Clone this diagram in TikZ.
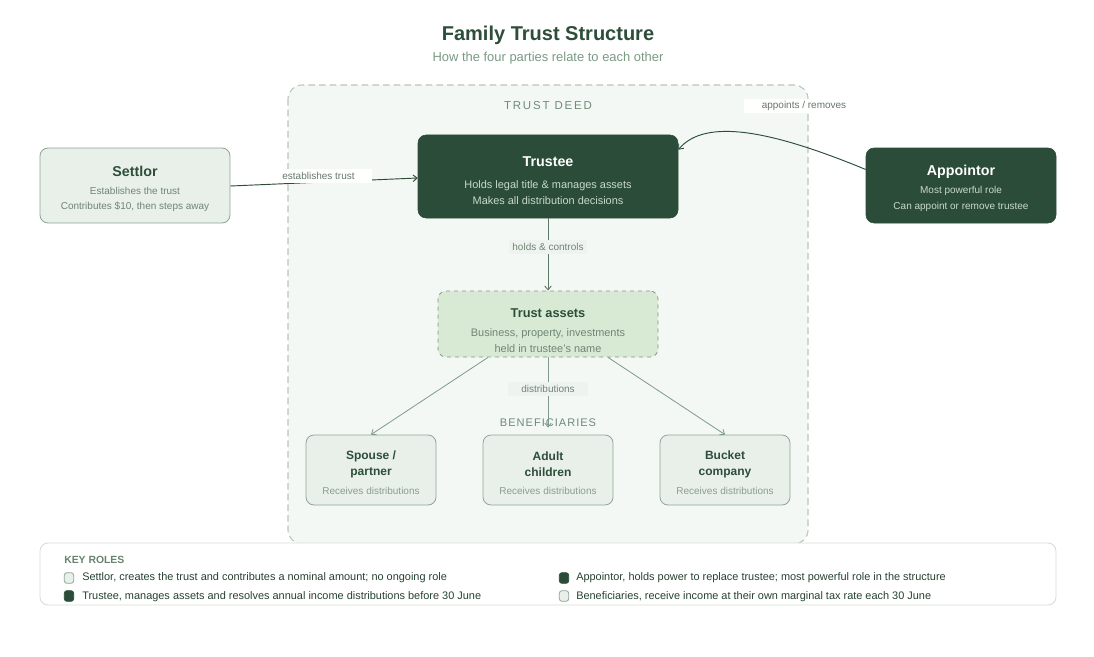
\documentclass[tikz,border=0pt]{standalone}
\usepackage{fontspec}
\setmainfont{Liberation Sans}
\usetikzlibrary{arrows.meta,calc}
\definecolor{dk}{HTML}{2B4C38}
\definecolor{titlec}{HTML}{2D4E3A}
\definecolor{subc}{HTML}{7A9A84}
\definecolor{deedfill}{HTML}{F4F8F5}
\definecolor{deedline}{HTML}{B9C5BD}
\definecolor{lightfill}{HTML}{E8F0E9}
\definecolor{lightline}{HTML}{8FA696}
\definecolor{assetfill}{HTML}{D8EAD3}
\definecolor{assetline}{HTML}{7F9A86}
\definecolor{graytext}{HTML}{6F8575}
\definecolor{paletext}{HTML}{C9D9CD}
\definecolor{keyline}{HTML}{D8DDD9}
\definecolor{edgemid}{HTML}{5D7A66}
\definecolor{edgelight}{HTML}{7F9A87}
\definecolor{lblfill}{HTML}{EEF3EF}
\tikzset{
  darkbox/.style={draw=dk,fill=dk,rounded corners=6pt,inner sep=0pt},
  lightbox/.style={draw=lightline,fill=lightfill,rounded corners=6pt,inner sep=0pt,line width=0.6pt},
  assetbox/.style={draw=assetline,fill=assetfill,rounded corners=6pt,inner sep=0pt,dashed,line width=0.6pt},
  benbox/.style={draw=lightline,fill=lightfill,rounded corners=6pt,inner sep=0pt,minimum width=97.5pt,minimum height=52.5pt,line width=0.6pt},
  ttl/.style={font=\fontsize{10.7}{12}\selectfont\bfseries,inner sep=0pt},
  bttl/.style={font=\fontsize{9}{12}\selectfont\bfseries,text=titlec,inner sep=0pt,align=center},
  body/.style={font=\fontsize{7.5}{9}\selectfont,inner sep=0pt},
  bigbody/.style={font=\fontsize{8.2}{10}\selectfont,inner sep=0pt},
  elabel/.style={font=\fontsize{7.5}{9}\selectfont,text=graytext,inner sep=2.5pt},
  lblbg/.style={inner sep=0pt,minimum height=11pt},
  arr/.style={-{Straight Barb[length=3pt,width=5pt]},line width=0.7pt},
  keytxt/.style={font=\fontsize{8.2}{10}\selectfont,text=titlec!85!black,anchor=west,inner sep=0pt},
  keysq/.style={rounded corners=2pt,minimum width=7pt,minimum height=8pt,inner sep=0pt,line width=0.6pt},
}
\begin{document}
\begin{tikzpicture}[x=0.75pt,y=-0.75pt]
\useasboundingbox (0,0) rectangle (1094,656);
\fill[white] (0,0) rectangle (1094,656);

% title
\node[font=\fontsize{15}{18}\selectfont\bfseries,text=titlec] (title) at (548,35.5) {Family Trust Structure};
\node[font=\fontsize{9.7}{11}\selectfont,text=subc] (sub) at (548,58.5) {How the four parties relate to each other};

% trust deed container
\draw[deedline,fill=deedfill,dashed,dash pattern=on 5pt off 3pt,line width=0.8pt,rounded corners=10.5pt] (288,85) rectangle (808,544);
\node[font=\fontsize{8.6}{10}\selectfont\addfontfeatures{LetterSpace=16},text=subc!90!black] (deed) at (548,105.5) {TRUST DEED};
\node[font=\fontsize{8.3}{10}\selectfont\addfontfeatures{LetterSpace=9},text=subc!90!black] (benlbl) at (548,422.5) {BENEFICIARIES};

% main boxes
\node[darkbox,minimum width=195pt,minimum height=62.25pt] (trustee) at (548,176.5) {};
\node[ttl,text=white] at (548,161.5) {Trustee};
\node[bigbody,text=paletext] at (548,185.5) {Holds legal title \& manages assets};
\node[bigbody,text=paletext] at (548,201) {Makes all distribution decisions};

\node[lightbox,minimum width=142.5pt,minimum height=56.25pt] (settlor) at (135,185.5) {};
\node[ttl,text=titlec] at (135,171.5) {Settlor};
\node[body,text=graytext] at (135,190.5) {Establishes the trust};
\node[body,text=graytext] at (135,207) {Contributes \$10, then steps away};

\node[darkbox,minimum width=142.5pt,minimum height=56.25pt] (appointor) at (961,185.5) {};
\node[ttl,text=white] at (961,171.5) {Appointor};
\node[body,text=paletext] at (961,190.5) {Most powerful role};
\node[body,text=paletext] at (961,207) {Can appoint or remove trustee};

\node[assetbox,minimum width=165pt,minimum height=49.5pt] (assets) at (548,324) {};
\node[ttl,text=titlec,font=\fontsize{9.6}{12}\selectfont\bfseries] at (548,313.5) {Trust assets};
\node[bigbody,text=graytext] at (548,333.5) {Business, property, investments};
\node[bigbody,text=graytext] at (548,348.5) {held in trustee's name};

% beneficiaries
\node[benbox] (spouse) at (371,470) {};
\node[bttl] at (371,464) {Spouse /\\partner};
\node[body,text=graytext!80!white] at (371,491) {Receives distributions};
\node[benbox] (adult) at (548,470) {};
\node[bttl] at (548,464) {Adult\\children};
\node[body,text=graytext!80!white] at (548,491) {Receives distributions};
\node[benbox] (bucket) at (725,470) {};
\node[bttl] at (725,464) {Bucket\\company};
\node[body,text=graytext!80!white] at (725,491) {Receives distributions};

% connectors
\draw[arr,dk] ($(settlor.east)+(0,0.5)$) -- ($(trustee.west)+(0,1.5)$);
\node[lblbg,fill=white,minimum width=69pt] (estbg) at (326,176) {};
\node[elabel,text=graytext!90!black] (est) at (318.5,176) {establishes trust};

\draw[arr,edgemid] (trustee.south) -- (assets.north);
\node[elabel,fill=lblfill] (hc) at (548,247) {holds \& controls};

\draw[arr,dk] ($(appointor.west)+(0,-16)$) .. controls (770,130) and (705,118) .. ($(trustee.north east)+(0,15)$);
\node[lblbg,fill=white,minimum width=90pt] (appbg) at (804,106) {};
\node[elabel,text=graytext!90!black] (app) at (804,106) {appoints / removes};

\draw[arr,edgelight,line width=0.6pt] ($(assets.south)+(-60,0)$) -- (spouse.north);
\draw[arr,edgelight,line width=0.6pt] ($(assets.south)+(60,0)$) -- (bucket.north);
\draw[arr,edgelight,line width=0.6pt] (assets.south) -- ($(adult.north)+(0,-7)$);
\node[elabel,fill=lblfill,minimum width=60pt] (dist) at (548,389) {distributions};

% key roles
\draw[keyline,fill=white,rounded corners=6pt,line width=0.7pt] (40,543) rectangle (1056,605);
\node[font=\fontsize{7.8}{9}\selectfont\bfseries,text=subc!85!black,anchor=west,inner sep=0pt] (keyt) at (64,559.5) {KEY ROLES};
\node[keysq,draw=lightline,fill=lightfill] (k1) at (69,578) {};
\node[keytxt] at (82,578) {Settlor, creates the trust and contributes a nominal amount; no ongoing role};
\node[keysq,draw=dk,fill=dk] (k2) at (69,596) {};
\node[keytxt] at (82,596.5) {Trustee, manages assets and resolves annual income distributions before 30 June};
\node[keysq,draw=dk,fill=dk] (k3) at (564,578) {};
\node[keytxt] at (576,578) {Appointor, holds power to replace trustee; most powerful role in the structure};
\node[keysq,draw=lightline,fill=lightfill] (k4) at (564,596) {};
\node[keytxt] at (576,596.5) {Beneficiaries, receive income at their own marginal tax rate each 30 June};
\end{tikzpicture}
\end{document}
